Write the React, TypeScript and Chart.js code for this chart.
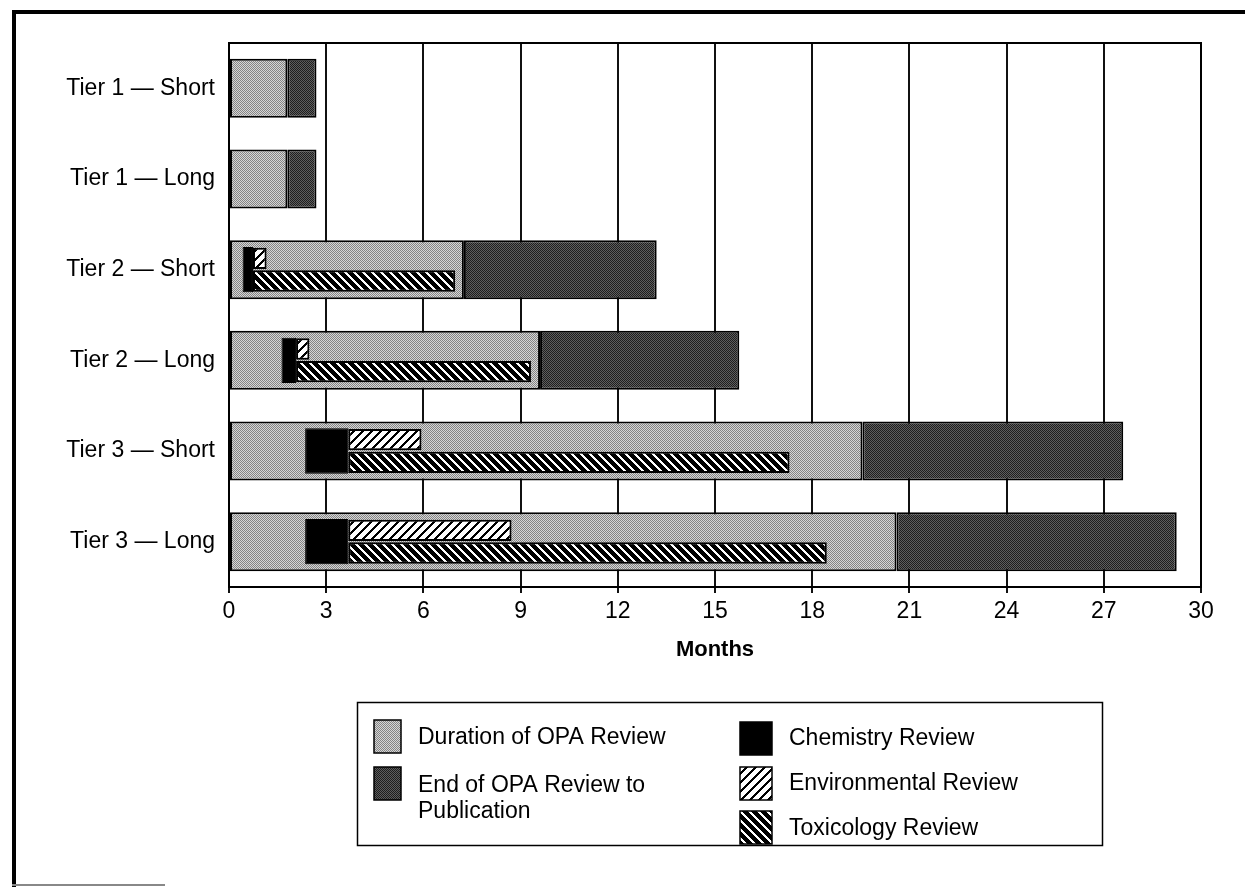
import React, { useEffect, useRef } from "react";
import { Chart, registerables } from "chart.js";

Chart.register(...registerables);

// ---- data ----
const categories = [
  "Tier 1 — Short",
  "Tier 1 — Long",
  "Tier 2 — Short",
  "Tier 2 — Long",
  "Tier 3 — Short",
  "Tier 3 — Long",
];
const opaReviewEnd = [1.8, 1.8, 7.25, 9.6, 19.55, 20.6];
const publicationEnd = [2.7, 2.7, 13.2, 15.75, 27.6, 29.25];
const chemistryStart: (number | null)[] = [null, null, 0.42, 1.62, 2.35, 2.35];
const chemistryEnd: (number | null)[] = [null, null, 0.74, 2.07, 3.68, 3.68];
const environmentalEnd: (number | null)[] = [null, null, 1.16, 2.48, 5.94, 8.72];
const toxicologyEnd: (number | null)[] = [null, null, 6.98, 9.32, 17.3, 18.45];
const xTickValues = [0, 3, 6, 9, 12, 15, 18, 21, 24, 27, 30];
const xAxisTitle = "Months";
const legendLabels: (string | string[])[] = [
  "Duration of OPA Review",
  ["End of OPA Review to", "Publication"],
  "Chemistry Review",
  "Environmental Review",
  "Toxicology Review",
];

const FONT = "'Liberation Sans', Arial, Helvetica, sans-serif";

function makeTile(size: number, fn: (x: number, y: number) => number) {
  const c = document.createElement("canvas");
  c.width = size;
  c.height = size;
  const cx = c.getContext("2d")!;
  const img = cx.createImageData(size, size);
  for (let y = 0; y < size; y++) {
    for (let x = 0; x < size; x++) {
      const v = fn(x, y);
      const i = (y * size + x) * 4;
      img.data[i] = v;
      img.data[i + 1] = v;
      img.data[i + 2] = v;
      img.data[i + 3] = 255;
    }
  }
  cx.putImageData(img, 0, 0);
  return c;
}

export default function App() {
  const ref = useRef<HTMLCanvasElement | null>(null);

  useEffect(() => {
    const canvas = ref.current!;
    const ctx = canvas.getContext("2d")!;
    const opaPattern = ctx.createPattern(
      makeTile(2, (x, y) => ((x + y) % 2 === 0 ? 0x84 : 0xd6)),
      "repeat"
    )!;
    const endPattern = ctx.createPattern(
      makeTile(2, (x, y) => ((x + y) % 2 === 0 ? 0x1e : 0x5e)),
      "repeat"
    )!;
    const envPattern = ctx.createPattern(
      makeTile(9, (x, y) => ((x + y) % 9 < 3 ? 0 : 255)),
      "repeat"
    )!;
    const toxPattern = ctx.createPattern(
      makeTile(9, (x, y) => (((x - y) % 9 + 9) % 9 < 3 ? 255 : 0)),
      "repeat"
    )!;

    const idx = categories.map((_, i) => i);
    const opaData = idx.map((i) => [0, opaReviewEnd[i]]);
    const endData = idx.map((i) => [opaReviewEnd[i], publicationEnd[i]]);
    const chemData = idx.map((i) =>
      chemistryStart[i] == null ? null : [chemistryStart[i], chemistryEnd[i]]
    );
    const envData = idx.map((i) =>
      environmentalEnd[i] == null ? null : [chemistryEnd[i], environmentalEnd[i]]
    );
    const toxData = idx.map((i) =>
      toxicologyEnd[i] == null ? null : [chemistryEnd[i], toxicologyEnd[i]]
    );

    const swatchFills = [opaPattern, endPattern, "#000", envPattern, toxPattern];

    const framePlugin = {
      id: "frames",
      afterDraw(chart: any) {
        const c = chart.ctx as CanvasRenderingContext2D;
        const { left, top, right, bottom } = chart.chartArea;
        c.save();
        c.strokeStyle = "#000";
        c.lineWidth = 2;
        c.strokeRect(left, top, right - left, bottom - top);

        // page frame
        c.lineWidth = 4;
        c.beginPath();
        c.moveTo(12, 12);
        c.lineTo(chart.width, 12);
        c.moveTo(14, 10);
        c.lineTo(14, chart.height);
        c.stroke();
        c.lineWidth = 2;
        c.strokeStyle = "#888";
        c.beginPath();
        c.moveTo(12, 885);
        c.lineTo(165, 885);
        c.stroke();

        // legend box
        c.strokeStyle = "#000";
        c.lineWidth = 1.5;
        c.strokeRect(357.5, 702.5, 745, 143);

        const items = [
          { sx: 374, sy: 720, sw: 27, sh: 33, tx: 418, ty: [738] },
          { sx: 374, sy: 767, sw: 27, sh: 33, tx: 418, ty: [786, 812] },
          { sx: 740, sy: 722, sw: 32, sh: 33, tx: 789, ty: [739] },
          { sx: 740, sy: 767, sw: 32, sh: 33, tx: 789, ty: [784] },
          { sx: 740, sy: 811, sw: 32, sh: 33, tx: 789, ty: [829] },
        ];
        c.font = `23px ${FONT}`;
        c.textBaseline = "middle";
        c.textAlign = "left";
        items.forEach((it, k) => {
          c.fillStyle = swatchFills[k] as any;
          c.fillRect(it.sx, it.sy, it.sw, it.sh);
          c.lineWidth = 1.5;
          c.strokeStyle = "#000";
          c.strokeRect(it.sx, it.sy, it.sw, it.sh);
          c.fillStyle = "#000";
          const lab = legendLabels[k];
          const lines = Array.isArray(lab) ? lab : [lab];
          lines.forEach((ln, j) => c.fillText(ln, it.tx, it.ty[j]));
        });
        c.restore();
      },
    };

    const chart = new Chart(canvas, {
      type: "bar",
      data: {
        labels: categories,
        datasets: [
          {
            label: "Chemistry Review",
            data: chemData as any,
            backgroundColor: "#000",
            borderColor: "#000",
            borderWidth: 1,
            borderSkipped: false,
            grouped: false,
            categoryPercentage: 1,
            barPercentage: 0.5,
          },
          {
            label: "Environmental Review",
            data: envData as any,
            backgroundColor: envPattern as any,
            borderColor: "#000",
            borderWidth: 2,
            borderSkipped: false,
            grouped: true,
            categoryPercentage: 0.5,
            barPercentage: 0.94,
          },
          {
            label: "Toxicology Review",
            data: toxData as any,
            backgroundColor: toxPattern as any,
            borderColor: "#000",
            borderWidth: 2,
            borderSkipped: false,
            grouped: true,
            categoryPercentage: 0.5,
            barPercentage: 0.94,
          },
          {
            label: "Duration of OPA Review",
            data: opaData as any,
            backgroundColor: opaPattern as any,
            borderColor: "#000",
            borderWidth: 2,
            borderSkipped: false,
            grouped: false,
            categoryPercentage: 1,
            barPercentage: 0.65,
          },
          {
            label: "End of OPA Review to Publication",
            data: endData as any,
            backgroundColor: endPattern as any,
            borderColor: "#000",
            borderWidth: 2,
            borderSkipped: false,
            grouped: false,
            categoryPercentage: 1,
            barPercentage: 0.65,
          },
        ],
      },
      options: {
        indexAxis: "y",
        responsive: false,
        animation: false,
        layout: { padding: { left: 0, top: 43, right: 44, bottom: 220 } },
        plugins: {
          legend: { display: false },
          tooltip: { enabled: false },
        },
        scales: {
          x: {
            type: "linear",
            position: "bottom",
            min: 0,
            max: 30,
            afterBuildTicks: (s: any) => {
              s.ticks = xTickValues.map((v) => ({ value: v }));
            },
            afterFit: (s: any) => {
              s.height = 80;
            },
            ticks: {
              font: { family: FONT, size: 23 },
              color: "#000",
              padding: 5,
              maxRotation: 0,
              autoSkip: false,
            },
            grid: { color: "#111", lineWidth: 2, tickLength: 6, drawTicks: true },
            border: { display: true, color: "#000", width: 2 },
            title: {
              display: true,
              text: xAxisTitle,
              color: "#000",
              font: { family: FONT, size: 22, weight: "bold" },
              padding: { top: 0, bottom: 4 },
            },
          },
          y: {
            type: "category",
            afterFit: (s: any) => {
              s.width = 229;
            },
            grid: { display: false, drawTicks: false },
            border: { display: true, color: "#000", width: 2 },
            ticks: {
              font: { family: FONT, size: 23 },
              color: "#000",
              padding: 14,
            },
          },
        },
      } as any,
      plugins: [framePlugin],
    });

    return () => chart.destroy();
  }, []);

  return (
    <div
      style={{
        position: "absolute",
        left: 0,
        top: 0,
        width: 1245,
        height: 887,
        background: "#fff",
      }}
    >
      <canvas ref={ref} width={1245} height={887} style={{ display: "block" }} />
    </div>
  );
}
